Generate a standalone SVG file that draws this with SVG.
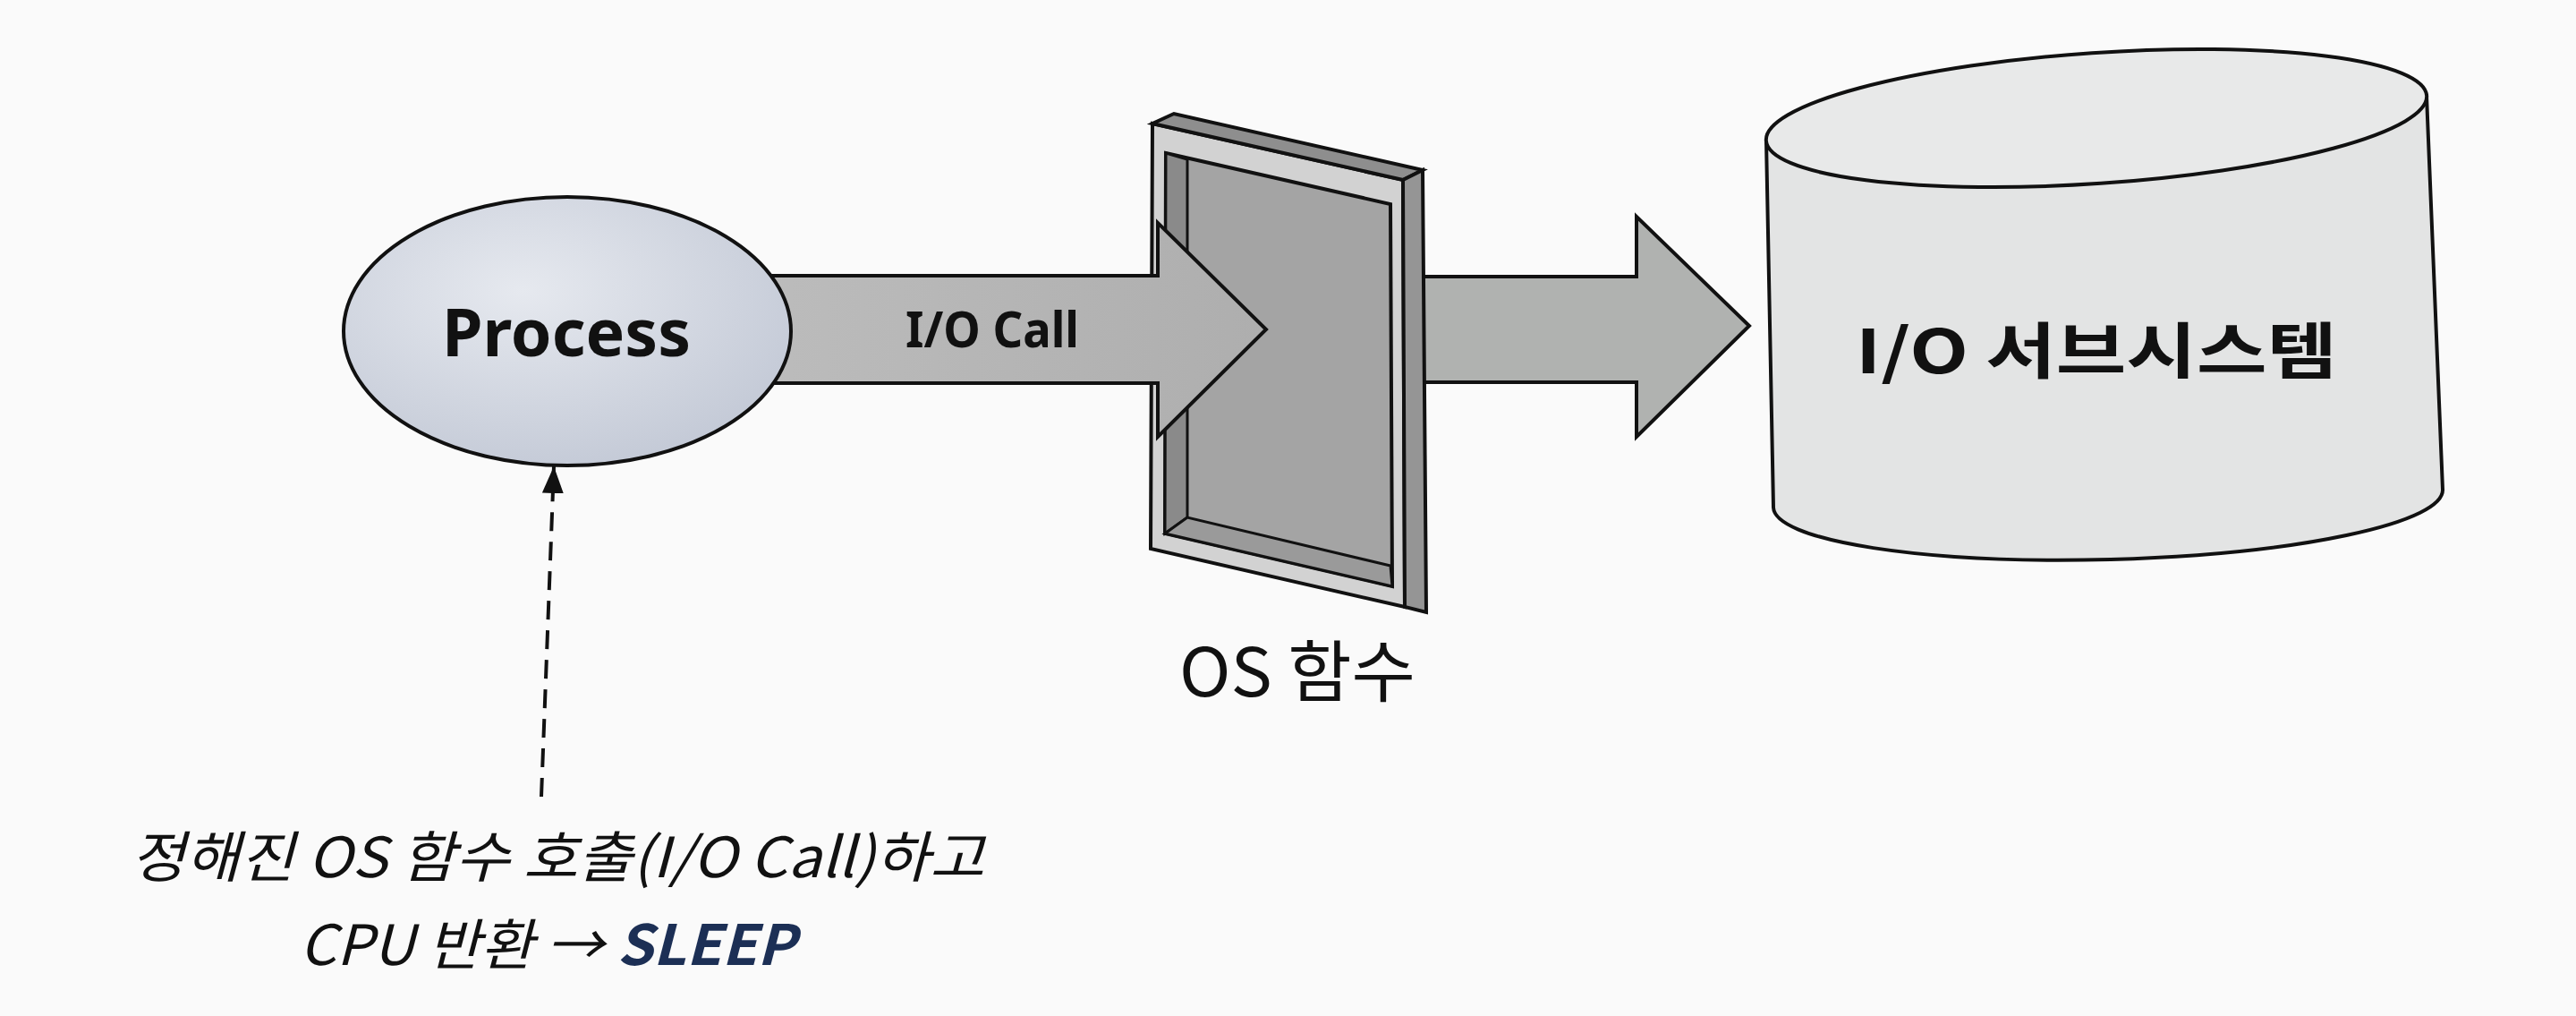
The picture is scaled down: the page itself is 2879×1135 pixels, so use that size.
<svg xmlns="http://www.w3.org/2000/svg" width="2879" height="1135" viewBox="0 0 2879 1135">
<defs>
<style>
.ln{stroke:#111;stroke-width:4;stroke-linejoin:miter}
.t{font-family:"Noto Sans","Noto Sans CJK KR",sans-serif;fill:#111}
.k{font-family:"Noto Sans CJK KR","Noto Sans",sans-serif;fill:#111}
</style>
<radialGradient id="gProc" cx="0.4" cy="0.35" r="0.7">
<stop offset="0" stop-color="#e6e9ef"/>
<stop offset="1" stop-color="#c3c9d6"/>
</radialGradient>
<linearGradient id="gArr" x1="0" y1="0" x2="1" y2="0">
<stop offset="0" stop-color="#bdbdbd"/>
<stop offset="1" stop-color="#aeaeae"/>
</linearGradient>
<marker id="ah" viewBox="0 0 30 24" refX="30" refY="12" markerWidth="30" markerHeight="24" markerUnits="userSpaceOnUse" orient="auto">
<path d="M0 0 L30 12 L0 24 Z" fill="#111"/>
</marker>
</defs>
<rect width="2879" height="1135" fill="#fafafa"/>
<g id="connectors">
<path id="arrow-os-to-io" class="ln" fill="#b0b2b0" d="M1585 309 L1829 309 L1829 242 L1955 364 L1829 488 L1829 427 L1585 427 Z"/>
</g>
<g id="os-function">
<polygon class="ln" fill="#d2d2d2" points="1288,138 1568,201 1570,678 1286,613"/>
<polygon class="ln" fill="#8e8e8e" points="1288,138 1312,127 1590,190 1568,201"/>
<polygon class="ln" fill="#959595" points="1568,201 1590,190 1594,684 1570,678"/>
<polygon class="ln" fill="#a4a4a4" points="1303,171 1554,228 1556,655 1302,596"/>
<polygon fill="#8a8a8a" stroke="#111" stroke-width="3" points="1303,171 1327,178 1327,578 1302,596"/>
<polygon fill="#9a9a9a" stroke="#111" stroke-width="3" points="1302,596 1327,578 1554,632 1556,655"/>
<text class="k" x="1450" y="778" font-size="75" text-anchor="middle" textLength="264" lengthAdjust="spacingAndGlyphs">OS 함수</text>
</g>
<g id="connectors-2">
<path id="arrow-io-call" class="ln" fill="url(#gArr)" d="M800 308 L1294 308 L1294 249 L1415 368 L1294 488 L1294 428 L800 428 Z"/>
<text class="t" x="1109" y="388" font-size="56" font-weight="bold" text-anchor="middle" textLength="194" lengthAdjust="spacingAndGlyphs">I/O Call</text>
<line id="arrow-sleep" x1="605" y1="890" x2="619" y2="521" stroke="#111" stroke-width="4" stroke-dasharray="21 12" marker-end="url(#ah)"/>
</g>
<g id="process">
<ellipse cx="634" cy="370" rx="250" ry="150" fill="url(#gProc)" class="ln"/>
<text class="t" x="633" y="398" font-size="74" font-weight="bold" text-anchor="middle" textLength="278" lengthAdjust="spacingAndGlyphs">Process</text>
</g>
<g id="io-subsystem">
<path class="ln" fill="#e3e4e4" d="M1974 157 L1982 567 A374 68 -1.5 0 0 2730 547 L2712 107 Z"/>
<ellipse cx="2343" cy="132" rx="370" ry="73" transform="rotate(-3.9 2343 132)" fill="#e8e9e9" class="ln"/>
<text class="k" x="2343" y="417" font-size="68" font-weight="bold" text-anchor="middle" textLength="538" lengthAdjust="spacingAndGlyphs">I/O 서브시스템</text>
</g>
<g id="note">
<text class="k" x="623" y="980" font-size="62" font-style="italic" text-anchor="middle" textLength="954" lengthAdjust="spacingAndGlyphs">정해진 OS 함수 호출(I/O Call)하고</text>
<text class="k" x="612" y="1078" font-size="62" font-style="italic" text-anchor="middle" textLength="554" lengthAdjust="spacingAndGlyphs">CPU 반환 → <tspan font-weight="bold" fill="#1c2f55">SLEEP</tspan></text>
</g>
</svg>
